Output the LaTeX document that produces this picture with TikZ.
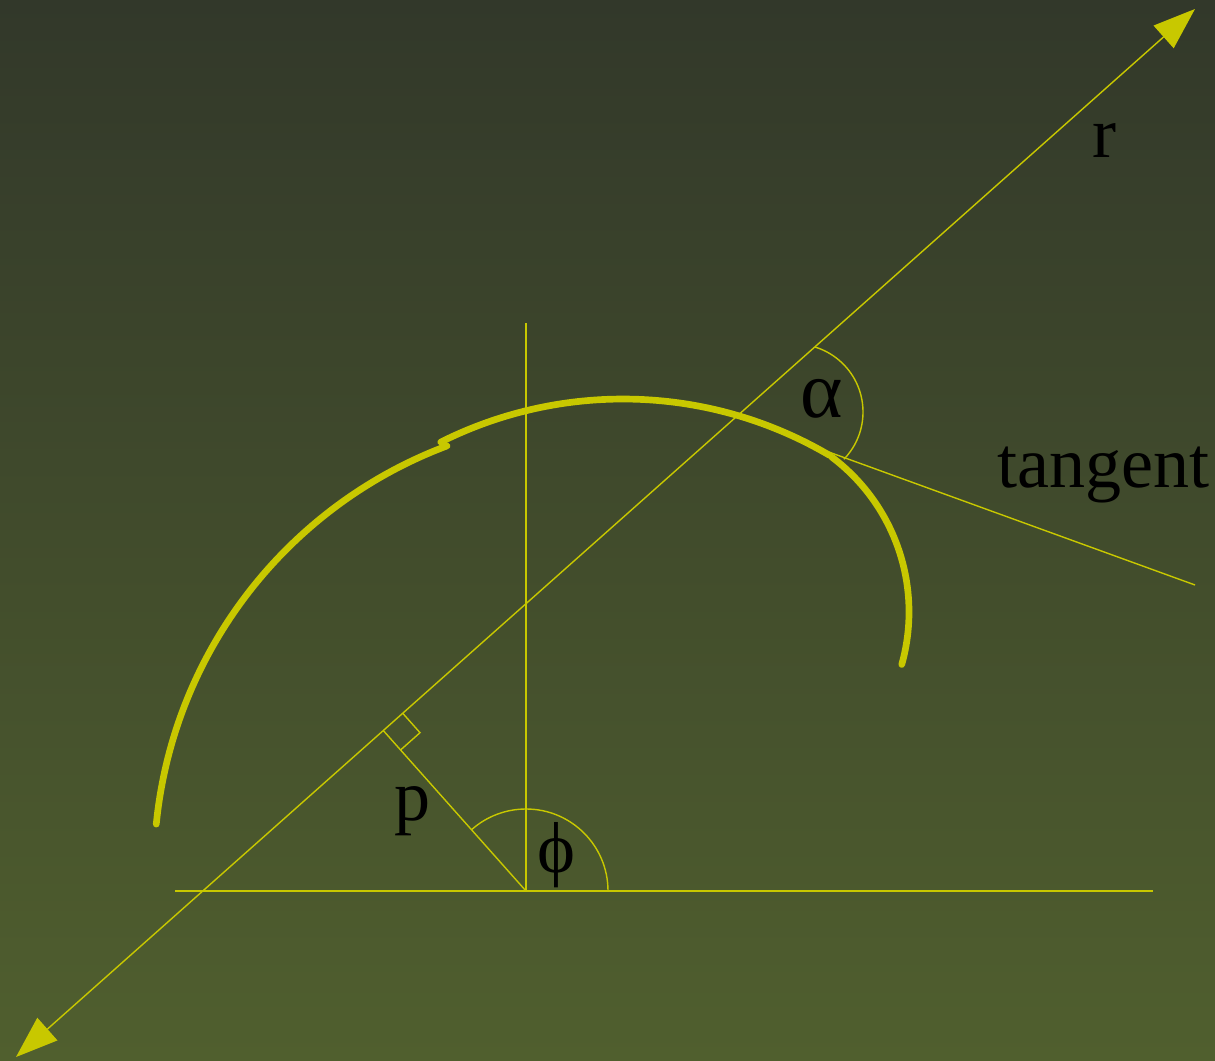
\documentclass[tikz,border=0pt]{standalone}
\usepackage{fontspec}
\setmainfont{Liberation Serif}
\usepackage{tikz}
\usetikzlibrary{arrows.meta, calc}

\definecolor{bgtop}{RGB}{50,56,42}
\definecolor{bgbot}{RGB}{80,95,46}
\definecolor{olivey}{RGB}{200,200,0}

\begin{document}
\begin{tikzpicture}[
    x=0.01cm, y=0.01cm,
    thinline/.style={draw=olivey, line width=0.4pt},
    curve/.style={draw=olivey, line width=1.9pt, line cap=round},
    axisarrow/.style={thinline, {Triangle[length=0.42cm, width=0.30cm]}-{Triangle[length=0.42cm, width=0.30cm]}, olivey},
    lbl/.style={inner sep=0pt, text=black, font=\fontsize{20.5}{24}\selectfont}
]

\shade[top color=bgtop, bottom color=bgbot] (0,0) rectangle (1215,1060);
\useasboundingbox (0,0) rectangle (1215,1060);

\coordinate (o) at (526,169);
\coordinate (hleft) at (175,169);
\coordinate (hright) at (1153,169);
\coordinate (vtop) at (526,737);
\coordinate (rlo) at (16,3);
\coordinate (rhi) at (1195,1051);
\coordinate (foot) at ($(rlo)!(o)!(rhi)$);
\coordinate (sqa) at ($(foot)!0.26cm!(rhi)$);
\coordinate (sqb) at ($(foot)!0.26cm!(o)$);
\coordinate (sqc) at ($(sqa)+(sqb)-(foot)$);
\coordinate (tanstart) at (826,609);
\coordinate (tanend) at (1195,475);
\coordinate (alphac) at (795,648);
\coordinate (cleft) at (606,191);
\coordinate (cmid) at (623,254);
\coordinate (cright) at (715,448);

\draw[thinline] (hleft) -- (hright);
\draw[thinline] (o) -- (vtop);
\draw[axisarrow] (rlo) -- (rhi);
\draw[thinline] (o) -- (foot);
\draw[thinline] (sqa) -- (sqc) -- (sqb);
\draw[thinline] ($(o)+(82,0)$) arc[start angle=0, end angle=131.6, radius=82];
\draw[thinline] (tanstart) -- (tanend);
\draw[thinline] ($(alphac)+(-44:68)$) arc[start angle=-44, end angle=73, radius=68];

\draw[curve] ($(cleft)+(174.3:452)$) arc[start angle=174.3, end angle=110.6, radius=452];
\draw[curve] ($(cmid)+(116.6:407)$) arc[start angle=116.6, end angle=59.5, radius=407];
\draw[curve] ($(cright)+(53:194)$) arc[start angle=53, end angle=-15.7, radius=194];

\node[lbl, anchor=base] (rlbl) at (1104,902) {r};
\node[lbl, anchor=base west] (tanlbl) at (997,572) {tangent};
\node[lbl, anchor=base, font=\fontsize{23}{26}\selectfont] (alphalbl) at (822,642) {α};
\node[lbl, anchor=base] (plbl) at (413,240) {p};
\node[lbl] (philbl) at (556,205) {ϕ};

\end{tikzpicture}
\end{document}
